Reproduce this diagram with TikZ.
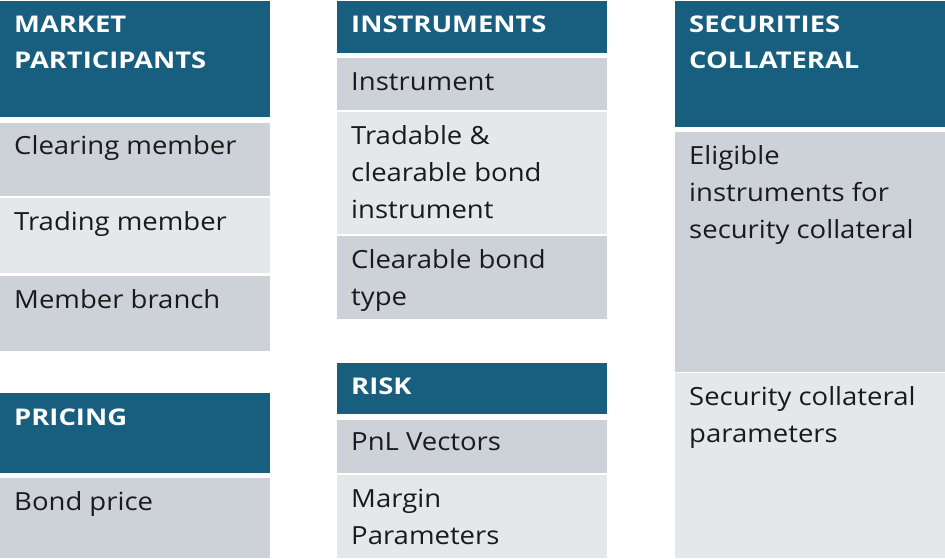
\documentclass[tikz,border=0pt]{standalone}
\usepackage{fontspec}
\setmainfont{Open Sans}
\newfontfamily\bodyfont[FakeStretch=1.1]{Open Sans}
\newfontfamily\headfont[FakeStretch=1.19]{Open Sans Bold}
\usetikzlibrary{calc}
\definecolor{hdr}{RGB}{23,94,127}
\definecolor{gA}{RGB}{205,210,217}
\definecolor{gB}{RGB}{229,232,235}
\definecolor{ink}{RGB}{26,26,26}
\newcommand{\cellrows}[1]{\begin{tabular}[t]{@{}l@{}}#1\end{tabular}}
\begin{document}
\begin{tikzpicture}[x=1pt,y=-1pt,
  cell/.style={anchor=north west,inner sep=0pt,outer sep=0pt,minimum width=270pt},
  hcell/.style={cell,fill=hdr},
  acell/.style={cell,fill=gA},
  bcell/.style={cell,fill=gB},
  htxt/.style={anchor=base west,inner sep=0pt,text=white,font=\headfont\fontsize{23}{36}\selectfont},
  btxt/.style={anchor=base west,inner sep=0pt,text=ink,font=\bodyfont\fontsize{25}{37}\selectfont}]
\useasboundingbox (0,0) rectangle (945,558);
% left column
\node[hcell,minimum height=116pt] (mph) at (0,1) {};
\node[acell,minimum height=73pt] (cm) at (0,123) {};
\node[bcell,minimum height=75pt] (tm) at (0,198) {};
\node[acell,minimum height=75pt] (mb) at (0,276) {};
\node[hcell,minimum height=80pt] (prh) at (0,393) {};
\node[acell,minimum height=80pt] (bp) at (0,478) {};
% middle column
\node[hcell,minimum height=52pt] (insh) at (337,1) {};
\node[acell,minimum height=52pt] (ins) at (337,58) {};
\node[bcell,minimum height=122pt] (tcb) at (337,112) {};
\node[acell,minimum height=83pt] (cbt) at (337,236) {};
\node[hcell,minimum height=51pt] (rkh) at (337,363) {};
\node[acell,minimum height=53pt] (pnl) at (337,420) {};
\node[bcell,minimum height=83pt] (mpar) at (337,475) {};
% right column
\node[hcell,minimum height=126pt] (sch) at (675,1) {};
\node[acell,minimum height=240pt] (eli) at (675,132) {};
\node[bcell,minimum height=185pt] (scp) at (675,373) {};
% texts
\node[htxt] (tmph) at ($(mph.north west)+(14,31)$) {\cellrows{MARKET\\PARTICIPANTS}};
\node[btxt] (tcm) at ($(cm.north west)+(14,31)$) {Clearing member};
\node[btxt] (ttm) at ($(tm.north west)+(14,32)$) {Trading member};
\node[btxt] (tmb) at ($(mb.north west)+(14,32)$) {Member branch};
\node[htxt] (tprh) at ($(prh.north west)+(14,32)$) {PRICING};
\node[btxt] (tbp) at ($(bp.north west)+(14,32)$) {Bond price};
\node[htxt] (tinsh) at ($(insh.north west)+(14,31)$) {INSTRUMENTS};
\node[btxt] (tins) at ($(ins.north west)+(14,32)$) {Instrument};
\node[btxt] (ttcb) at ($(tcb.north west)+(14,32)$) {\cellrows{Tradable \&\\clearable bond\\instrument}};
\node[btxt] (tcbt) at ($(cbt.north west)+(14,32)$) {\cellrows{Clearable bond\\type}};
\node[htxt] (trkh) at ($(rkh.north west)+(14,31)$) {RISK};
\node[btxt] (tpnl) at ($(pnl.north west)+(14,30)$) {PnL Vectors};
\node[btxt] (tmpar) at ($(mpar.north west)+(14,32)$) {\cellrows{Margin\\Parameters}};
\node[htxt] (tsch) at ($(sch.north west)+(14,31)$) {\cellrows{SECURITIES\\COLLATERAL}};
\node[btxt] (teli) at ($(eli.north west)+(14,32)$) {\cellrows{Eligible\\instruments for\\security collateral}};
\node[btxt] (tscp) at ($(scp.north west)+(14,32)$) {\cellrows{Security collateral\\parameters}};
\end{tikzpicture}
\end{document}
